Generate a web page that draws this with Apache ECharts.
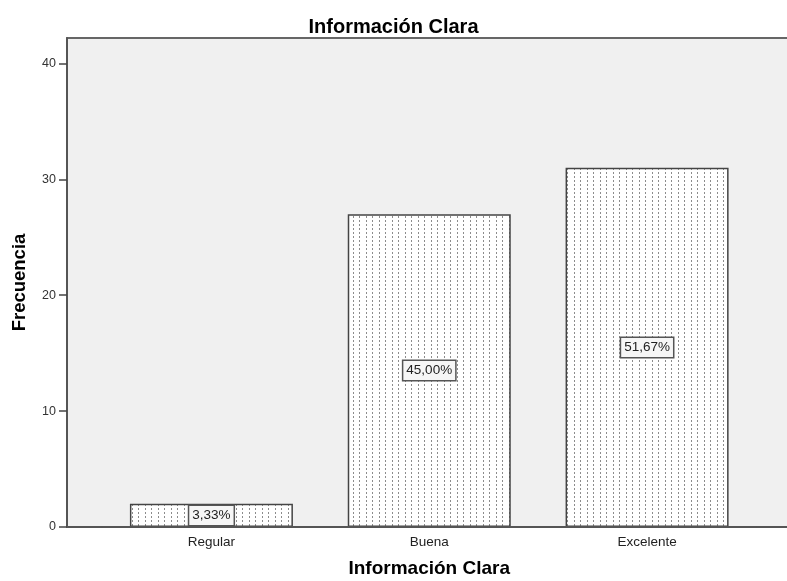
<!DOCTYPE html>
<html>
<head>
<meta charset="utf-8">
<script src="https://cdn.jsdelivr.net/npm/echarts@6/dist/echarts.min.js"></script>
<style>html,body{margin:0;padding:0;background:#fff}#c{width:787px;height:581px}</style>
</head>
<body>
<div id="c"></div>
<script>
const categories = ['Regular', 'Buena', 'Excelente'];
const frequencies = [2, 27, 31];
const percentLabels = ['3,33%', '45,00%', '51,67%'];
const yTicks = [0, 10, 20, 30, 40];

const pat = document.createElement('canvas');
pat.width = 13; pat.height = 4;
const pctx = pat.getContext('2d');
pctx.fillStyle = '#ffffff';
pctx.fillRect(0, 0, 13, 4);
pctx.fillStyle = '#8c8c8c';
pctx.fillRect(2, 0, 1, 2);
pctx.fillRect(8, 0, 1, 2);

const font = "'Liberation Sans', Arial, sans-serif";
const chart = echarts.init(document.getElementById('c'), null, {renderer: 'canvas'});
chart.setOption({
  animation: false,
  backgroundColor: '#ffffff',
  textStyle: {fontFamily: font},
  title: {
    text: 'Información Clara', left: 'center', top: 12,
    textStyle: {fontSize: 20, fontWeight: 'bold', color: '#000', fontFamily: font}
  },
  grid: [
    {left: 102.5, right: 31, top: 38, bottom: 54, outerBoundsMode: 'none', containLabel: false},
    {left: 67, right: 0, top: 38, bottom: 54, show: true, backgroundColor: '#f0f0f0', borderWidth: 0, z: 0, outerBoundsMode: 'none', containLabel: false}
  ],
  xAxis: [
    {
      type: 'category', gridIndex: 0, data: categories,
      axisLine: {lineStyle: {color: '#555', width: 2}},
      axisTick: {alignWithLabel: true, length: 7, lineStyle: {color: '#444', width: 1.5}},
      axisLabel: {fontSize: 13.5, color: '#222', margin: 8, fontFamily: font},
      name: 'Información Clara', nameLocation: 'middle', nameGap: 32,
      nameTextStyle: {fontSize: 19, fontWeight: 'bold', color: '#000', fontFamily: font},
      z: 5
    },
    {
      type: 'value', gridIndex: 1, position: 'top', min: 0, max: 1,
      axisLine: {show: true, onZero: false, lineStyle: {color: '#666', width: 2}},
      axisTick: {show: false}, axisLabel: {show: false}, splitLine: {show: false}
    },
    {
      type: 'value', gridIndex: 1, position: 'bottom', min: 0, max: 1,
      axisLine: {show: true, onZero: false, lineStyle: {color: '#555', width: 2}},
      axisTick: {show: false}, axisLabel: {show: false}, splitLine: {show: false}
    }
  ],
  yAxis: [
    {
      type: 'value', gridIndex: 0, min: 0, max: 42.2, interval: 10, offset: 35.5,
      axisLine: {show: true, onZero: false, lineStyle: {color: '#555', width: 2}},
      axisTick: {show: true, length: 8, customValues: yTicks, lineStyle: {color: '#444', width: 1.5}},
      axisLabel: {fontSize: 12.5, color: '#333', margin: 11, customValues: yTicks, fontFamily: font},
      splitLine: {show: false},
      name: 'Frecuencia', nameLocation: 'middle', nameGap: 38,
      nameTextStyle: {fontSize: 18.5, fontWeight: 'bold', color: '#000', fontFamily: font},
      z: 5
    },
    {
      type: 'value', gridIndex: 1, min: 0, max: 1,
      axisLine: {show: false, onZero: false}, axisTick: {show: false}, axisLabel: {show: false}, splitLine: {show: false}
    }
  ],
  series: [{
    type: 'bar', xAxisIndex: 0, yAxisIndex: 0, data: frequencies, barWidth: 163,
    itemStyle: {color: {image: pat, repeat: 'repeat'}, borderColor: '#444', borderWidth: 1.5},
    label: {
      show: true, position: 'inside',
      formatter: p => percentLabels[p.dataIndex],
      fontSize: 13.5, color: '#222', fontFamily: font,
      backgroundColor: '#f6f6f6', borderColor: '#555', borderWidth: 1.5,
      padding: [3, 3, 2, 3]
    },
    z: 3
  }]
});
</script>
</body>
</html>
